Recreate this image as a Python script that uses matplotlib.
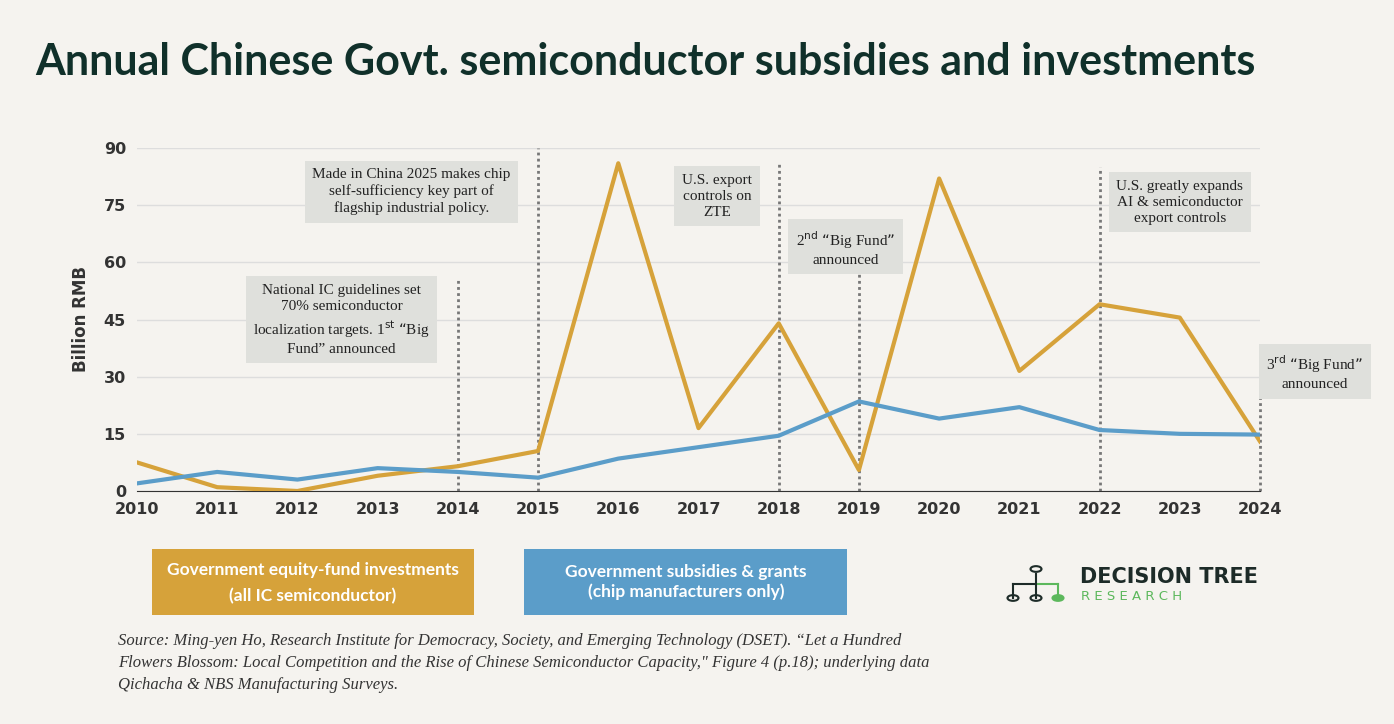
import matplotlib.pyplot as plt
from matplotlib.patches import Rectangle, Circle

years = list(range(2010, 2025))
equity = [7.5, 1, 0, 4, 6.5, 10.5, 86, 16.5, 44, 5.5, 82, 31.5, 49, 45.5, 13]
subsidies = [2, 5, 3, 6, 5, 3.5, 8.5, 11.5, 14.5, 23.5, 19, 22, 16, 15, 14.8]

events = [
    (2014, 56, "National IC guidelines set\n70% semiconductor\nlocalization targets. 1$^{\\mathrm{st}}$ \u201cBig\nFund\u201d announced", 2012.55, 44.9),
    (2015, 90, "Made in China 2025 makes chip\nself-sufficiency key part of\nflagship industrial policy.", 2013.42, 78.5),
    (2018, 86, "U.S. export\ncontrols on\nZTE", 2017.23, 77.4),
    (2019, 60, "2$^{\\mathrm{nd}}$ \u201cBig Fund\u201d\nannounced", 2018.83, 63.8),
    (2022, 85, "U.S. greatly expands\nAI & semiconductor\nexport controls", 2023.0, 75.8),
    (2024, 36, "3$^{\\mathrm{rd}}$ \u201cBig Fund\u201d\nannounced", 2024.68, 31.2),
]

BG = "#f5f3ef"
ORANGE = "#d6a23a"
BLUE = "#5b9dc9"
DARK = "#10302a"
BOX = "#dfe0dc"

fig = plt.figure(figsize=(13.94, 7.24), dpi=100, facecolor=BG)
ax = fig.add_axes([137 / 1394, 1 - 491 / 724, (1260 - 137) / 1394, (491 - 148) / 724])
ax.set_facecolor(BG)

for x, top, txt, tx, ty in events:
    ax.plot([x, x], [0, top], color="#777777", lw=2, ls=(0, (1, 1.2)), zorder=2, clip_on=False)
    ax.text(tx, ty, txt, ha="center", va="center", fontsize=11, family="Liberation Serif",
            color="#222222", linespacing=1.3, zorder=4, clip_on=False,
            bbox=dict(boxstyle="square,pad=0.5", fc=BOX, ec="none"))

ax.plot(years, equity, color=ORANGE, lw=3, zorder=3)
ax.plot(years, subsidies, color=BLUE, lw=3, zorder=3)

ax.set_xlim(2010, 2024)
ax.set_ylim(0, 90)
ax.set_xticks(years)
ax.set_yticks(range(0, 91, 15))
ax.grid(axis="y", color="#dddddd", lw=1)
ax.set_axisbelow(True)
for s in ["top", "right", "left"]:
    ax.spines[s].set_visible(False)
ax.spines["bottom"].set_color("#333333")
ax.tick_params(length=0, labelsize=11.5, colors="#333333", pad=8)
for lab in ax.get_xticklabels() + ax.get_yticklabels():
    lab.set_fontweight("bold")
ax.set_ylabel("Billion RMB", fontsize=12, fontweight="bold", color="#333333", labelpad=10)

fig.text(35 / 1394, 1 - 62 / 724, "Annual Chinese Govt. semiconductor subsidies and investments",
         fontsize=31, fontweight="bold", color=DARK, va="center", family="Lato")

# legend boxes
fig.patches.append(Rectangle((152 / 1394, 1 - 615 / 724), 322 / 1394, 66 / 724,
                             transform=fig.transFigure, fc=ORANGE, ec="none"))
fig.text(313 / 1394, 1 - 583 / 724, "Government equity-fund investments\n(all IC semiconductor)",
         ha="center", va="center", color="white", fontsize=12.5, fontweight="bold",
         linespacing=1.7, family="Lato")
fig.patches.append(Rectangle((524 / 1394, 1 - 615 / 724), 323 / 1394, 66 / 724,
                             transform=fig.transFigure, fc=BLUE, ec="none"))
fig.text(686 / 1394, 1 - 582 / 724, "Government subsidies & grants\n(chip manufacturers only)",
         ha="center", va="center", color="white", fontsize=12.5, fontweight="bold",
         linespacing=1.3, family="Lato")

# logo
lc = "#1d2b28"
GREEN = "#5cb85c"
def fp(x, y):
    return (x / 1394, 1 - y / 724)
for (x1, y1, x2, y2, c) in [(1013, 584, 1036, 584, lc), (1036, 584, 1058, 584, GREEN),
                            (1013, 584, 1013, 598, lc), (1036, 574, 1036, 598, lc),
                            (1058, 584, 1058, 598, GREEN)]:
    fig.lines.append(plt.Line2D([x1 / 1394, x2 / 1394], [1 - y1 / 724, 1 - y2 / 724],
                                transform=fig.transFigure, color=c, lw=1.5))
for (x, y, fc, ec) in [(1036, 569, BG, lc), (1013, 598, BG, lc), (1036, 598, BG, lc), (1058, 598, GREEN, GREEN)]:
    fig.patches.append(Circle(fp(x, y), 5.5 / 1394, transform=fig.transFigure,
                              fc=fc, ec=ec, lw=1.5))
fig.text(1080 / 1394, 1 - 577 / 724, "DECISION TREE", fontsize=15, fontweight="bold",
         color=lc, va="center")
fig.text(1081 / 1394, 1 - 597 / 724, "R E S E A R C H", fontsize=9.5, color=GREEN, va="center")

fig.text(118 / 1394, 1 - 663 / 724,
         "Source: Ming-yen Ho, Research Institute for Democracy, Society, and Emerging Technology (DSET). \u201cLet a Hundred\n"
         "Flowers Blossom: Local Competition and the Rise of Chinese Semiconductor Capacity,\" Figure 4 (p.18); underlying data\n"
         "Qichacha & NBS Manufacturing Surveys.",
         fontsize=12, style="italic", family="Liberation Serif", color="#333333", va="center", linespacing=1.5)

fig.savefig("out.png", dpi=100, facecolor=BG)
